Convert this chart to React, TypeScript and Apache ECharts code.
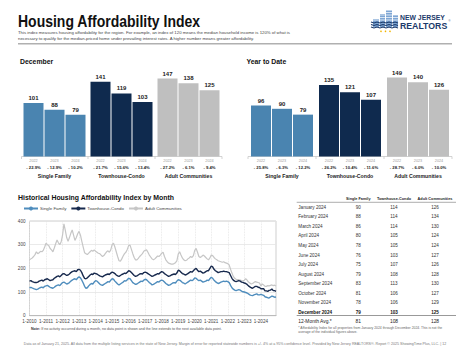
import React, { useEffect, useRef } from "react";
import * as echarts from "echarts";

// ---------- data ----------
const groups = ["Single Family", "Townhouse-Condo", "Adult Communities"];
const barYears = ["2022", "2023", "2024"];
const decValues = [[101, 88, 79], [141, 119, 103], [147, 138, 125]];
const decChanges = [["- 22.9%", "- 12.9%", "- 10.2%"], ["- 21.7%", "- 15.6%", "- 13.4%"], ["- 27.2%", "- 6.1%", "- 9.4%"]];
const ytdValues = [[96, 90, 79], [135, 121, 107], [149, 140, 126]];
const ytdChanges = [["- 25.8%", "- 6.3%", "- 12.2%"], ["- 26.2%", "- 10.4%", "- 11.6%"], ["- 28.7%", "- 6.0%", "- 10.0%"]];

const sfMonthly = [
  118, 120, 117, 114, 112, 110, 112, 116, 119, 121, 118, 124,
  126, 128, 124, 120, 118, 116, 120, 125, 128, 130, 127, 134,
  140, 142, 138, 134, 136, 140, 146, 150, 154, 156, 152, 160,
  164, 160, 150, 138, 124, 116, 118, 126, 132, 136, 134, 142,
  148, 146, 140, 134, 130, 128, 132, 136, 140, 144, 142, 150,
  156, 154, 146, 140, 134, 130, 134, 138, 142, 148, 146, 152,
  158, 156, 148, 140, 136, 132, 134, 138, 142, 146, 144, 150,
  154, 152, 146, 140, 136, 130, 132, 136, 140, 144, 142, 148,
  150, 148, 142, 136, 132, 128, 130, 134, 138, 140, 138, 146,
  152, 150, 146, 140, 138, 134, 138, 142, 146, 150, 148, 152,
  160, 158, 152, 148, 150, 146, 142, 144, 146, 150, 148, 156,
  162, 158, 150, 144, 140, 136, 138, 142, 144, 146, 144, 146,
  144, 140, 128, 118, 112, 108, 106, 108, 110, 108, 104, 101,
  100, 98, 96, 92, 88, 86, 85, 88, 90, 92, 88, 88,
  90, 88, 86, 80, 78, 76, 75, 79, 83, 81, 78, 79,
];
const tcMonthly = [
  146, 148, 144, 142, 140, 140, 142, 146, 148, 150, 146, 152,
  154, 156, 152, 148, 150, 152, 158, 162, 166, 168, 164, 170,
  176, 178, 174, 170, 172, 176, 182, 186, 188, 190, 186, 194,
  196, 192, 182, 168, 158, 156, 160, 166, 172, 176, 174, 180,
  178, 176, 172, 168, 166, 164, 168, 172, 174, 176, 174, 180,
  184, 182, 178, 172, 168, 166, 170, 174, 176, 180, 178, 184,
  190, 188, 182, 176, 170, 166, 168, 172, 176, 178, 176, 182,
  184, 182, 178, 174, 170, 166, 168, 172, 174, 178, 176, 182,
  186, 184, 178, 174, 170, 166, 168, 172, 174, 176, 174, 180,
  192, 190, 184, 178, 176, 172, 174, 178, 182, 186, 184, 190,
  196, 200, 192, 186, 188, 184, 180, 182, 186, 190, 190, 200,
  210, 206, 196, 190, 186, 182, 184, 186, 186, 188, 186, 186,
  184, 182, 170, 158, 150, 146, 144, 146, 148, 146, 142, 141,
  138, 136, 132, 126, 122, 118, 116, 120, 124, 124, 120, 119,
  114, 114, 114, 105, 105, 103, 107, 108, 113, 106, 106, 103,
];
const acMonthly = [
  236, 240, 244, 250, 258, 270, 262, 266, 272, 270, 276, 290,
  306, 300, 296, 284, 278, 270, 286, 304, 320, 308, 300, 312,
  340, 388, 360, 330, 314, 330, 348, 362, 340, 318, 330, 346,
  356, 340, 314, 290, 266, 262, 258, 264, 270, 276, 272, 278,
  272, 268, 264, 262, 256, 250, 254, 262, 270, 274, 268, 278,
  300, 306, 290, 270, 250, 232, 230, 240, 252, 262, 268, 280,
  296, 298, 280, 262, 246, 236, 236, 242, 250, 256, 262, 272,
  276, 278, 268, 256, 248, 240, 236, 240, 246, 252, 250, 256,
  264, 268, 250, 236, 228, 222, 220, 218, 218, 220, 224, 232,
  260, 270, 256, 244, 236, 232, 234, 240, 244, 250, 246, 254,
  276, 284, 268, 250, 246, 250, 256, 252, 246, 240, 236, 244,
  256, 254, 246, 240, 236, 232, 230, 228, 226, 228, 224, 222,
  220, 214, 196, 180, 166, 158, 154, 152, 152, 150, 148, 147,
  150, 156, 150, 142, 138, 134, 136, 140, 144, 142, 140, 138,
  126, 134, 130, 124, 124, 127, 126, 128, 130, 127, 129, 125,
];
const startYear = 2010;
const endYear = 2024;
const yTicks = [0, 100, 200, 300, 400];

const tableHeaders = ["Single Family", "Townhouse-Condo", "Adult Communities"];
const tableMonths = [
  "January 2024", "February 2024", "March 2024", "April 2024", "May 2024", "June 2024",
  "July 2024", "August 2024", "September 2024", "October 2024", "November 2024", "December 2024",
];
const tableSF = [90, 88, 86, 80, 78, 76, 75, 79, 83, 81, 78, 79];
const tableTC = [114, 114, 114, 105, 105, 103, 107, 108, 113, 106, 106, 103];
const tableAC = [126, 134, 130, 124, 124, 127, 126, 128, 130, 127, 129, 125];
const avgLabel = "12-Month Avg.*";
const avgValues = [81, 108, 128];

// ---------- styles ----------
const SANS = "'Liberation Sans', Arial, sans-serif";
const BAR_COLORS = ["#4a84b0", "#0f2a4e", "#bfbfbf"];
const LINE_COLORS = ["#4f8dbd", "#17294d", "#c6c6c6"];
const NARROW_SCALE = 0.86;

export default function App() {
  const ref = useRef<HTMLDivElement>(null);

  useEffect(() => {
    if (!ref.current) return;
    const chart = echarts.init(ref.current, undefined, { renderer: "svg" });

    const grids: any[] = [];
    const xAxes: any[] = [];
    const yAxes: any[] = [];
    const series: any[] = [];
    const graphics: any[] = [];

    const txt = (x: number, y: number, text: string, size: number, extra: any = {}, scaleX = 1) => ({
      type: "text",
      x,
      y,
      scaleX,
      silent: true,
      style: {
        text,
        fontSize: size,
        fontFamily: SANS,
        fill: "#333",
        textVerticalAlign: "middle",
        textAlign: "left",
        ...extra,
      },
    });

    // ----- header -----
    graphics.push(txt(18, 21, "Housing Affordability Index", 16, { fontWeight: "bold", fill: "#111" }, 0.875));
    graphics.push(txt(18, 32.7, "This index measures housing affordability for the region. For example, an index of 120 means the median household income is 120% of what is", 4.3, { fill: "#444" }));
    graphics.push(txt(18, 38.3, "necessary to qualify for the median-priced home under prevailing interest rates. A higher number means greater affordability.", 4.3, { fill: "#444" }));
    graphics.push({ type: "line", silent: true, shape: { x1: 18, y1: 43.8, x2: 452, y2: 43.8 }, style: { stroke: "#b0b0b0", lineWidth: 1.5 } });

    // logo
    const logoBlue = "#7ea6d4";
    const navy = "#1b3a6b";
    [[373, 19, 6, 8], [380, 14, 5, 13], [386, 10.5, 6, 16.5], [393, 15, 5, 12]].forEach(([x, y, w, h]) =>
      graphics.push({ type: "rect", silent: true, shape: { x, y, width: w, height: h }, style: { fill: logoBlue } })
    );
    [12.5, 15, 17.5, 20].forEach((yy) =>
      graphics.push({ type: "line", silent: true, shape: { x1: 372, y1: yy, x2: 399, y2: yy }, style: { stroke: "#ffffff", lineWidth: 0.7 } })
    );
    [22, 24.5, 27].forEach((yy) => {
      const pts: number[][] = [];
      for (let i = 0; i <= 9; i++) pts.push([371 + i * 3, yy + (i % 2 === 0 ? 0 : 1)]);
      graphics.push({ type: "polyline", silent: true, shape: { points: pts }, style: { stroke: navy, lineWidth: 1.1, fill: null } });
    });
    [381, 385.5, 390].forEach((cx) =>
      graphics.push({ type: "circle", silent: true, shape: { cx, cy: 31.3, r: 0.8 }, style: { fill: "#f2b600" } })
    );
    graphics.push(txt(400, 17.3, "NEW JERSEY", 7.2, { fontWeight: "bold", fill: navy }, 0.95));
    graphics.push(txt(400, 26, "REALTORS", 9.4, { fontWeight: "bold", fill: navy }, 0.93));
    graphics.push(txt(448.5, 21.6, "®", 2.6, { fill: navy }));

    // ----- bar panels -----
    const BAR_BASE = 156.5;
    const BAR_MAX = 160;
    const BAR_PX = 0.53;
    const GROUP_W = 63;
    const panels = [
      { title: "December", titleX: 20, start: 23, pitch: 67, from: 21.5, to: 222, values: decValues, changes: decChanges },
      { title: "Year to Date", titleX: 246.5, start: 250.5, pitch: 68, from: 248, to: 452, values: ytdValues, changes: ytdChanges },
    ];
    panels.forEach((p) => {
      graphics.push(txt(p.titleX, 61, p.title, 8, { fontWeight: "bold", fill: "#111" }, NARROW_SCALE));
      graphics.push({ type: "line", silent: true, shape: { x1: p.from, y1: BAR_BASE, x2: p.to, y2: BAR_BASE }, style: { stroke: "#c8c8c8", lineWidth: 0.8 } });
      const tickXs = [p.from, p.start + p.pitch - (p.pitch - GROUP_W) / 2, p.start + 2 * p.pitch - (p.pitch - GROUP_W) / 2, p.to];
      tickXs.forEach((tx) =>
        graphics.push({ type: "line", silent: true, shape: { x1: tx, y1: BAR_BASE, x2: tx, y2: BAR_BASE + 2.5 }, style: { stroke: "#c8c8c8", lineWidth: 0.8 } })
      );
      groups.forEach((g, gi) => {
        const idx = grids.length;
        grids.push({ left: p.start + gi * p.pitch, width: GROUP_W, top: BAR_BASE - BAR_MAX * BAR_PX, height: BAR_MAX * BAR_PX });
        const changes = p.changes[gi];
        xAxes.push({
          type: "category",
          gridIndex: idx,
          data: barYears,
          axisLine: { show: false },
          axisTick: { show: false },
          axisLabel: {
            interval: 0,
            margin: 1.5,
            formatter: (v: string, i: number) => `{y|${v}}\n{p|${changes[i]}}`,
            rich: {
              y: { fontSize: 3.8, color: "#a0a0a0", fontFamily: SANS, lineHeight: 5.5 },
              p: { fontSize: 4.2, color: "#222", fontWeight: "bold", fontFamily: SANS, lineHeight: 7 },
            },
          },
          name: g,
          nameLocation: "middle",
          nameGap: 16.5,
          nameTextStyle: { fontSize: 5.2, fontWeight: "bold", color: "#222", fontFamily: SANS },
        });
        yAxes.push({ type: "value", gridIndex: idx, min: 0, max: BAR_MAX, show: false, splitLine: { show: false } });
        series.push({
          type: "bar",
          xAxisIndex: idx,
          yAxisIndex: idx,
          barWidth: 20,
          data: p.values[gi],
          itemStyle: { color: BAR_COLORS[gi] },
          label: { show: true, position: "top", distance: 2, fontSize: 6, fontWeight: "bold", color: "#222", fontFamily: SANS },
        });
      });
    });

    // ----- line chart -----
    graphics.push(txt(18, 197, "Historical Housing Affordability Index by Month", 8, { fontWeight: "bold", fill: "#111" }, 0.865));
    const monthLabels: string[] = [];
    for (let y = startYear; y <= endYear; y++) for (let m = 1; m <= 12; m++) monthLabels.push(`${m}-${y}`);
    const li = grids.length;
    grids.push({ left: 29.5, right: 194, top: 221, bottom: 37.3, show: true, borderColor: "#cfcfcf", borderWidth: 1 });
    xAxes.push({
      type: "category",
      gridIndex: li,
      data: monthLabels,
      boundaryGap: false,
      axisLine: { lineStyle: { color: "#bbb" } },
      axisTick: { show: false },
      axisLabel: { interval: 11, fontSize: 4.6, color: "#444", margin: 3, fontFamily: SANS },
      splitLine: { show: true, interval: 11, lineStyle: { color: "#e2e2e2", type: "dotted", width: 0.8 } },
    });
    yAxes.push({
      type: "value",
      gridIndex: li,
      min: yTicks[0],
      max: yTicks[yTicks.length - 1],
      interval: 100,
      axisLine: { show: false },
      axisTick: { show: false },
      axisLabel: { fontSize: 4.6, color: "#444", margin: 4, fontFamily: SANS },
      splitLine: { lineStyle: { color: "#e4e4e4", width: 0.8 } },
    });
    const lineData = [sfMonthly, tcMonthly, acMonthly];
    groups.forEach((g, gi) => {
      series.push({
        type: "line",
        name: g,
        xAxisIndex: li,
        yAxisIndex: li,
        data: lineData[gi],
        symbol: "none",
        z: 3 - gi,
        lineStyle: { color: LINE_COLORS[gi], width: gi === 2 ? 1.2 : 1.4 },
        itemStyle: { color: LINE_COLORS[gi] },
      });
    });
    graphics.push(txt(31, 329.3, "{b|Note:} If no activity occurred during a month, no data point is shown and the line extends to the next available data point.", 3.6, {
      fill: "#555",
      rich: { b: { fontWeight: "bold", fontSize: 3.6, fontFamily: SANS, fill: "#333" } },
    }));

    // ----- table -----
    const colX = [358.3, 394, 435];
    tableHeaders.forEach((h, i) => graphics.push(txt(colX[i], 199.3, h, 3.8, { fontWeight: "bold", textAlign: "center", fill: "#222" })));
    graphics.push({ type: "line", silent: true, shape: { x1: 296.7, y1: 202.3, x2: 456, y2: 202.3 }, style: { stroke: "#999", lineWidth: 0.8 } });
    const ROW0 = 207.3;
    const PITCH = 9.55;
    tableMonths.forEach((m, r) => {
      const y = ROW0 + r * PITCH;
      const bold = r === tableMonths.length - 1;
      const ex = bold ? { fontWeight: "bold", fill: "#111" } : { fill: "#333" };
      graphics.push(txt(298.3, y, m, 4.6, ex));
      [tableSF[r], tableTC[r], tableAC[r]].forEach((v, c) =>
        graphics.push(txt(colX[c], y, String(v), 4.6, { ...ex, textAlign: "center" }))
      );
    });
    graphics.push({ type: "line", silent: true, shape: { x1: 296.7, y1: 315.5, x2: 456, y2: 315.5 }, style: { stroke: "#999", lineWidth: 1 } });
    graphics.push(txt(298.3, 321.3, avgLabel, 4.9, { fill: "#222" }));
    avgValues.forEach((v, c) => graphics.push(txt(colX[c], 321.3, String(v), 4.9, { fill: "#222", textAlign: "center" })));
    graphics.push(txt(298.3, 327.8, "* Affordability Index for all properties from January 2024 through December 2024. This is not the", 3.4, { fill: "#666" }));
    graphics.push(txt(298.3, 331.8, "average of the individual figures above.", 3.4, { fill: "#666" }));

    // ----- footer -----
    graphics.push(txt(235, 344.3, "Data as of January 21, 2025. All data from the multiple listing services in the state of New Jersey. Margin of error for reported statewide numbers is +/- 4% at a 95% confidence level. Provided by New Jersey REALTORS®. Report © 2025 ShowingTime Plus, LLC. | 12", 3.6, { fill: "#777", textAlign: "center" }));

    chart.setOption({
      animation: false,
      backgroundColor: "#ffffff",
      textStyle: { fontFamily: SANS },
      grid: grids,
      xAxis: xAxes,
      yAxis: yAxes,
      series,
      legend: {
        data: groups,
        left: 18,
        top: 201.5,
        itemWidth: 14,
        itemHeight: 5,
        itemGap: 4,
        textStyle: { fontSize: 4.4, color: "#444", fontFamily: SANS, padding: [0, 0, 0, -3] },
      },
      graphic: { elements: graphics },
    });

    return () => chart.dispose();
  }, []);

  return (
    <div
      ref={ref}
      style={{ position: "fixed", left: 0, top: 0, width: 470, height: 353, background: "#fff" }}
    />
  );
}
